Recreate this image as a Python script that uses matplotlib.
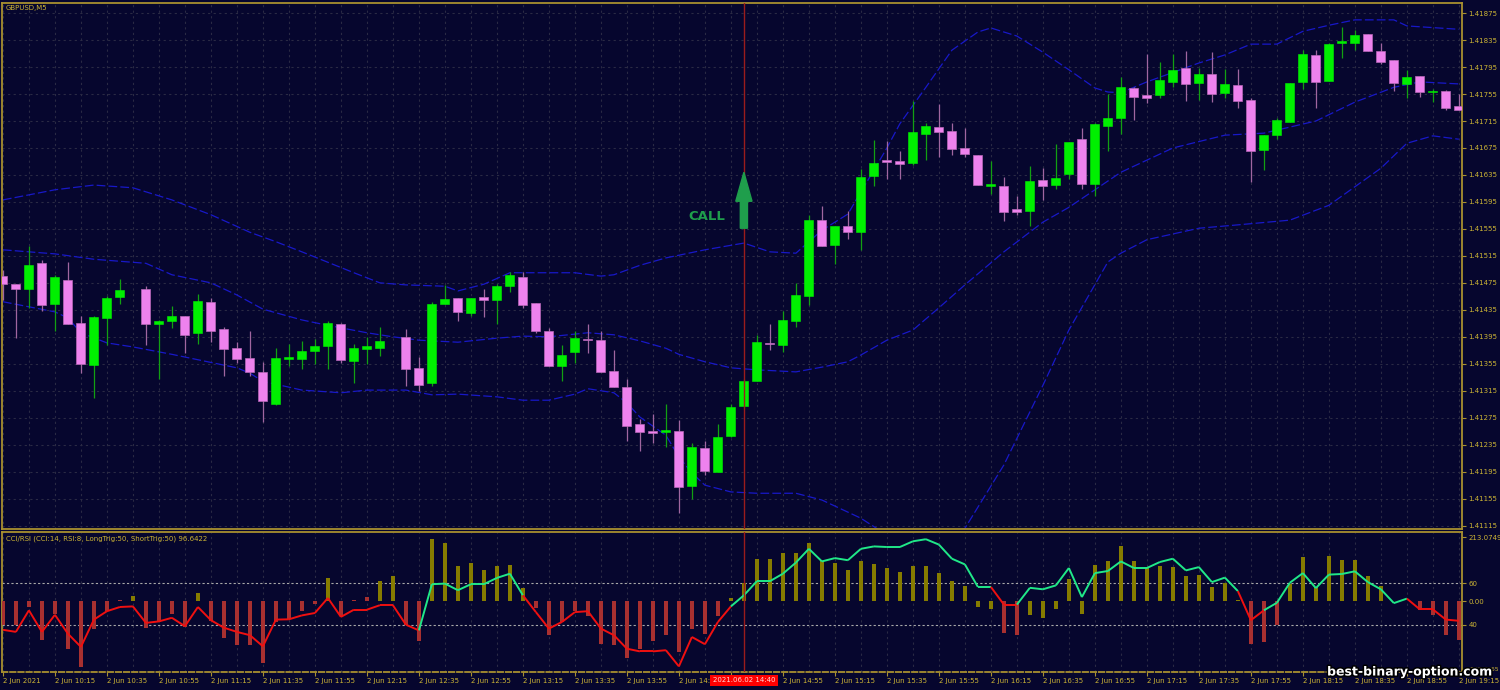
import numpy as np
import matplotlib
matplotlib.use("Agg")
import matplotlib.pyplot as plt
from matplotlib.collections import LineCollection
import matplotlib.patheffects as pe
from matplotlib.transforms import blended_transform_factory

# ---------------- data ----------------
symbol = "GBPUSD,M5"
ind_title = "CCI/RSI (CCI:14, RSI:8, LongTrig:50, ShortTrig:50) 96.6422"

# OHLC in price points (1e-5); None = doji drawn invisibly
open_pts = [141485, 141474, 141466, 141505, 141444, 141479, 141415, 141353, 141423, 141454,
            None, 141466, 141414, 141419, 141426, 141400, 141446, 141406, 141379, 141363,
            141343, 141296, 141362, 141362, 141374, 141381, 141414, 141359, 141377, 141379,
            None, 141394, 141349, 141326, 141444, 141452, 141431, 141454, 141450, 141470,
            141483, 141445, 141404, 141352, 141372, 141391, 141390, 141344, 141321, 141265,
            141256, 141254, 141256, 141174, 141230, 141195, 141248, 141293, 141330, 141386,
            141383, 141419, 141455, 141568, 141531, 141559, 141551, 141634, 141657, 141656,
            141652, 141696, 141706, 141700, 141675, 141664, 141619, 141618, 141585, 141582,
            141627, 141620, 141636, 141688, 141622, 141708, 141720, 141764, 141753, 141753,
            141773, 141794, 141771, 141785, 141756, 141769, 141746, 141672, 141695, 141714,
            141773, 141813, 141774, 141831, 141831, 141844, 141819, 141806, 141770, 141782,
            141758, 141760, 141738]
high_pts = [141494, 141474, 141530, 141509, 141486, 141506, 141426, 141426, 141456, 141481,
            None, 141470, 141420, 141440, 141426, 141459, 141453, 141410, 141388, 141404,
            141357, 141379, 141385, 141389, 141392, 141418, 141415, 141384, 141395, 141409,
            None, 141406, 141365, 141446, 141472, 141452, 141453, 141466, 141474, 141491,
            141491, 141445, 141408, 141383, 141404, 141414, 141404, 141376, 141332, 141273,
            141280, 141295, 141271, 141237, 141240, 141265, 141296, 141333, 141398, 141414,
            141434, 141475, 141576, 141589, 141560, 141582, 141644, 141687, 141686, 141671,
            141744, 141712, 141740, 141712, 141705, 141664, 141656, 141632, 141604, 141648,
            141646, 141681, 141684, 141705, 141712, 141755, 141780, 141766, 141814, 141803,
            141814, 141819, 141793, 141818, 141792, 141792, 141749, 141694, 141719, 141772,
            141821, 141821, 141831, 141854, 141850, 141844, 141831, 141806, 141791, 141782,
            141763, 141761, 141755]
low_pts = [141450, 141393, 141438, 141433, 141403, 141414, 141341, 141305, 141383, 141443,
           None, 141383, 141333, 141408, 141371, 141385, 141388, 141337, 141356, 141337,
           141268, 141294, 141352, 141348, 141354, 141347, 141356, 141326, 141354, 141366,
           None, 141322, 141314, 141322, 141443, 141419, 141426, 141425, 141414, 141462,
           141437, 141401, 141351, 141330, 141356, 141371, 141343, 141320, 141240, 141225,
           141238, 141232, 141133, 141154, 141190, 141194, 141247, 141291, 141330, 141375,
           141373, 141409, 141442, 141530, 141503, 141540, 141523, 141618, 141629, 141629,
           141650, 141657, 141661, 141665, 141662, 141620, 141607, 141567, 141575, 141560,
           141598, 141614, 141629, 141614, 141604, 141670, 141696, 141716, 141741, 141749,
           141766, 141744, 141746, 141743, 141749, 141735, 141625, 141642, 141689, 141714,
           141762, 141735, 141774, 141808, 141821, 141819, 141800, 141759, 141749, 141750,
           141743, 141731, 141731]
close_pts = [141473, 141466, 141502, 141442, 141483, 141414, 141354, 141425, 141453, 141464,
             None, 141414, 141418, 141426, 141397, 141448, 141404, 141377, 141362, 141343,
             141300, 141364, 141365, 141374, 141381, 141415, 141361, 141379, 141381, 141389,
             None, 141347, 141324, 141444, 141451, 141432, 141453, 141450, 141470, 141486,
             141442, 141404, 141351, 141368, 141393, 141390, 141343, 141320, 141263, 141254,
             141253, 141257, 141173, 141231, 141196, 141246, 141291, 141329, 141388, 141384,
             141420, 141457, 141568, 141530, 141560, 141550, 141632, 141653, 141654, 141651,
             141698, 141708, 141698, 141673, 141666, 141620, 141621, 141580, 141580, 141626,
             141619, 141631, 141684, 141621, 141710, 141719, 141765, 141751, 141749, 141776,
             141791, 141770, 141785, 141755, 141770, 141745, 141670, 141694, 141716, 141772,
             141814, 141773, 141829, 141833, 141843, 141819, 141803, 141771, 141781, 141758,
             141760, 141734, 141731]

# Bollinger bands (candle index, price points)
upper_idx = [0, 4, 7, 10, 13, 16, 19, 21, 23, 27, 29, 31, 34, 35, 37, 39, 44, 46, 47, 49, 51, 54,
             57, 59, 61, 63, 65, 66, 67, 68, 69, 71, 73, 75, 76, 78, 80, 82, 84, 85, 86, 88, 92,
             94, 96, 98, 100, 102, 104, 107, 108, 112]
upper_pts = [141598, 141613, 141620, 141616, 141598, 141576, 141550, 141536, 141521, 141490,
             141475, 141472, 141470, 141463, 141473, 141490, 141490, 141485, 141487, 141501,
             141512, 141524, 141534, 141521, 141519, 141553, 141577, 141610, 141642, 141675,
             141711, 141765, 141820, 141847, 141853, 141841, 141817, 141791, 141764, 141758,
             141757, 141773, 141801, 141813, 141829, 141829, 141848, 141857, 141865, 141865,
             141856, 141851]
middle_idx = [0, 4, 7, 11, 13, 16, 18, 20, 23, 25, 28, 30, 32, 35, 38, 40, 42, 45, 47, 49, 51, 52,
              54, 56, 58, 61, 63, 65, 66, 68, 70, 72, 74, 77, 80, 82, 84, 86, 90, 94, 97, 101,
              104, 107, 109, 112]
middle_pts = [141524, 141518, 141510, 141504, 141487, 141475, 141457, 141436, 141420, 141412,
              141401, 141395, 141390, 141387, 141393, 141396, 141395, 141401, 141398, 141389,
              141378, 141369, 141358, 141349, 141346, 141343, 141350, 141358, 141368, 141390,
              141405, 141438, 141472, 141521, 141565, 141587, 141613, 141639, 141675, 141694,
              141697, 141715, 141743, 141765, 141773, 141770]
lower_idx = [0, 4, 5, 6, 8, 10, 13, 15, 18, 19, 20, 23, 26, 28, 31, 33, 35, 38, 40, 42, 44, 45,
             47, 48, 49, 51, 52, 53, 54, 56, 58, 61, 63, 66, 68, 71, 74, 77, 80, 82, 85, 86, 88,
             92, 95, 99, 102, 106, 108, 110, 112]
lower_pts = [141447, 141432, 141423, 141401, 141386, 141380, 141369, 141361, 141349, 141341,
             141329, 141316, 141312, 141316, 141316, 141309, 141310, 141306, 141301, 141301,
             141310, 141318, 141312, 141297, 141276, 141249, 141217, 141193, 141175, 141165,
             141163, 141163, 141153, 141126, 141101, 141086, 141111, 141205, 141323, 141405,
             141506, 141519, 141539, 141556, 141561, 141568, 141590, 141645, 141682, 141693,
             141688]

# CCI histogram and RSI-based signal line
cci_hist = [-81, -81, -20, -129, -42, -159, -220, -92, -34, 5, 17, -90, -70, -42, -87, 27, -68,
            -123, -148, -148, -207, -70, -59, -34, -9, 77, -51, 5, 15, 66, 82, -81, -134, 208,
            194, 117, 128, 102, 116, 121, 44, -23, -112, -70, -34, -50, -142, -148, -189, -159,
            -134, -112, -170, -92, -111, -50, 10, 61, 141, 141, 161, 161, 194, 132, 127, 104,
            133, 122, 110, 97, 117, 116, 93, 66, 50, -20, -28, -107, -114, -48, -56, -28, 74,
            -44, 121, 133, 182, 133, 110, 117, 114, 83, 88, 47, 60, 2, -144, -137, -81, 58,
            147, 47, 150, 138, 138, 82, 49, 0, 0, -31, -48, -114, -129]
hist_state = ("rrrrrrrrrro" "rrrro" "rrrrrrrrro" "rrroo" "rr" "oooooooo" "rrrrrrrrrrrrrrr"
              "ooooooooooooooooooooo" "rr" "ooooooooooooooooo" "rrr" "oooooooooo" "rrrr")
signal_line = [-96, -103, -31, -103, -46, -109, -153, -62, -34, -20, -18, -73, -68, -56, -84,
               -20, -64, -89, -103, -114, -151, -62, -61, -48, -40, 10, -53, -29, -29, -14, -14,
               -79, -98, 56, 58, 36, 56, 56, 77, 91, 19, -37, -92, -70, -37, -34, -92, -114,
               -159, -168, -168, -164, -218, -120, -144, -70, -18, 19, 66, 66, 91, 128, 174,
               132, 143, 136, 174, 182, 180, 180, 199, 206, 188, 141, 122, 47, 47, -12, -12, 44,
               39, 52, 110, 13, 93, 100, 132, 110, 110, 130, 141, 102, 113, 63, 78, 33, -64,
               -31, -6, 61, 93, 43, 88, 90, 99, 63, 39, -7, 8, -28, -28, -62, -66]
line_state = ("r" * 33 + "g" * 8 + "r" * 16 + "g" * 20 + "rr" + "g" * 17 + "rr" + "g" * 11 + "r" * 4)

price_tick_labels = ["1.41875", "1.41835", "1.41795", "1.41755", "1.41715", "1.41675",
                     "1.41635", "1.41595", "1.41555", "1.41515", "1.41475", "1.41435",
                     "1.41395", "1.41355", "1.41315", "1.41275", "1.41235", "1.41195",
                     "1.41155", "1.41115"]
ind_tick_values = [213.0749, 60, 0, -80, -226.3965]
ind_tick_labels = ["213.0749", "60", "0.00", "40", "-226.3965"]
time_labels = ["2 Jun 2021", "2 Jun 10:15", "2 Jun 10:35", "2 Jun 10:55", "2 Jun 11:15",
               "2 Jun 11:35", "2 Jun 11:55", "2 Jun 12:15", "2 Jun 12:35", "2 Jun 12:55",
               "2 Jun 13:15", "2 Jun 13:35", "2 Jun 13:55", "2 Jun 14:15", "2 Jun 14:35",
               "2 Jun 14:55", "2 Jun 15:15", "2 Jun 15:35", "2 Jun 15:55", "2 Jun 16:15",
               "2 Jun 16:35", "2 Jun 16:55", "2 Jun 17:15", "2 Jun 17:35", "2 Jun 17:55",
               "2 Jun 18:15", "2 Jun 18:35", "2 Jun 18:55", "2 Jun 19:15"]
signal_idx = 57
signal_time = "2021.06.02 14:40"
arrow_low, arrow_high = 1.41556, 1.41639
call_text_price = 1.41574
levels = [60, -80]

# ---------------- style ----------------
BG = "#06062e"
GOLD = "#a89030"
TXT = "#cdb535"
GRID = "#2a2a44"
BULL = "#00f000"
BULL_WICK = "#12a012"
BEAR = "#ee82ee"
BEAR_WICK = "#a066a0"
BAND = "#1818c8"
FONT = "DejaVu Sans"
FS = 5.0

W, H = 1500, 690
fig = plt.figure(figsize=(W / 100, H / 100), dpi=100, facecolor=BG)
ax = fig.add_axes([2 / W, 1 - 529 / H, 1460 / W, 526 / H], facecolor=BG)
axi = fig.add_axes([2 / W, 1 - 672 / H, 1460 / W, 140.5 / H], facecolor=BG)

n = len(open_pts)
idx = np.arange(n)
xlim = (-0.07, 112.24)


def to_price(v):
    return np.array([np.nan if a is None else a / 1e5 for a in v], dtype=float)


o, h, l, c = map(to_price, (open_pts, high_pts, low_pts, close_pts))
valid = ~np.isnan(o)
bull = (c >= o) & valid
bear = (c < o) & valid

# wicks
ax.vlines(idx[bull], l[bull], h[bull], color=BULL_WICK, lw=0.9, zorder=3)
ax.vlines(idx[bear], l[bear], h[bear], color=BEAR_WICK, lw=0.9, zorder=3)
# bodies
minh = 0.000017
bot = np.minimum(o, c)
hgt = np.maximum(np.abs(c - o), minh)
ax.bar(idx[bull], hgt[bull], bottom=bot[bull], width=0.68, color=BULL,
       edgecolor=BULL, linewidth=0.4, zorder=4)
ax.bar(idx[bear], hgt[bear], bottom=bot[bear], width=0.68, color=BEAR,
       edgecolor="#b868b8", linewidth=0.5, zorder=4)

# Bollinger bands
for bi, bp in ((upper_idx, upper_pts), (middle_idx, middle_pts), (lower_idx, lower_pts)):
    ax.plot(bi, np.array(bp) / 1e5, color=BAND, lw=0.9, dashes=(7, 2.5), zorder=2)

# signal vertical line + arrow + CALL
for a in (ax, axi):
    a.axvline(signal_idx, color="#9a1c1c", lw=1.0, zorder=5)
ax.arrow(signal_idx, arrow_low, 0, arrow_high - arrow_low, width=0.55, head_width=1.25,
         head_length=0.00043, length_includes_head=True, color="#1f9e4c", zorder=6)
ax.text(signal_idx - 2.85, call_text_price, "CALL", color="#1f9e4c", fontsize=9.5,
        fontweight="bold", ha="center", va="center", family="DejaVu Sans", zorder=6)

ax.set_xlim(*xlim)
ax.set_ylim(1.41110, 1.41890)
ptick = [float(s) for s in price_tick_labels]
ax.yaxis.tick_right()
ax.set_yticks(ptick)
ax.set_yticklabels(price_tick_labels)
ax.set_xticks(np.arange(0, n, 2))
ax.tick_params(axis="x", length=0, labelbottom=False)
ax.tick_params(axis="y", length=3, width=0.8, color=GOLD, labelcolor=TXT,
               labelsize=FS, pad=1.5)
for t in ax.get_yticklabels():
    t.set_family(FONT)
ax.grid(True, color=GRID, lw=0.8, ls=(0, (2, 3)), zorder=0)
for s in ax.spines.values():
    s.set_color(GOLD)
    s.set_linewidth(1.3)
ax.text(4 / 1460, 1 - 5 / 526, symbol, transform=ax.transAxes, color=TXT, fontsize=FS,
        family=FONT, va="center", ha="left")

# ---------------- indicator ----------------
hist_cols = ["#867c00" if s == "o" else "#a83030" for s in hist_state]
axi.bar(idx, cci_hist, width=0.36, color=hist_cols, zorder=3)
for lv in levels:
    axi.axhline(lv, color="#a8a8a8", lw=0.8, ls=(0, (2, 2)), zorder=2)
segs = []
cols = []
for i in range(1, n):
    segs.append([(i - 1, signal_line[i - 1]), (i, signal_line[i])])
    cols.append("#20e888" if line_state[i] == "g" else "#f01010")
axi.add_collection(LineCollection(segs, colors=cols, linewidths=1.4, zorder=4))
axi.set_xlim(*xlim)
axi.set_ylim(-236.7, 231.7)
axi.yaxis.tick_right()
axi.set_yticks(ind_tick_values)
axi.set_yticklabels(ind_tick_labels)
axi.set_xticks(np.arange(0, n, 4))
axi.set_xticklabels(time_labels)
axi.set_xticks(np.arange(0, n, 2), minor=True)
axi.tick_params(axis="x", which="major", length=3, width=0.8, color=GOLD, labelcolor=TXT,
                labelsize=FS, pad=1.2)
axi.tick_params(axis="x", which="minor", length=0)
axi.tick_params(axis="y", length=3, width=0.8, color=GOLD, labelcolor=TXT,
                labelsize=FS, pad=1.5)
xt = axi.get_xticklabels()
for k, t in enumerate(xt):
    t.set_ha("left")
    t.set_family(FONT)
    # the label under the red time marker is hidden in the original terminal
    if np.arange(0, n, 4)[k] == signal_idx - 1:
        t.set_visible(False)
yl = axi.get_yticklabels()
for t in yl:
    t.set_family(FONT)
yl[-1].set_fontsize(4.3)
axi.grid(True, axis="x", which="both", color=GRID, lw=0.8, ls=(0, (2, 3)), zorder=0)
for s in axi.spines.values():
    s.set_color(GOLD)
    s.set_linewidth(1.3)
axi.spines["bottom"].set_linestyle((0, (3, 1.5)))
axi.text(4 / 1460, 1 - 7.5 / 140.5, ind_title, transform=axi.transAxes, color=TXT,
         fontsize=FS, family=FONT, va="center", ha="left")

# red time marker on the axis
tr = blended_transform_factory(axi.transData, fig.transFigure)
fig.text(signal_idx, 1 - 680 / H, signal_time, transform=tr, ha="center", va="center",
         color="#ffd8d8", fontsize=FS, family=FONT,
         bbox=dict(facecolor="#ff0000", edgecolor="none", pad=1.8), zorder=10)

# watermark
fig.text(1409 / W, 1 - 672 / H, "best-binary-option.com", color="white", fontsize=9,
         fontweight="bold", family="DejaVu Sans", ha="center", va="center", zorder=11,
         path_effects=[pe.withStroke(linewidth=2.2, foreground="black")])

fig.savefig("out.png", dpi=100, facecolor=BG)
